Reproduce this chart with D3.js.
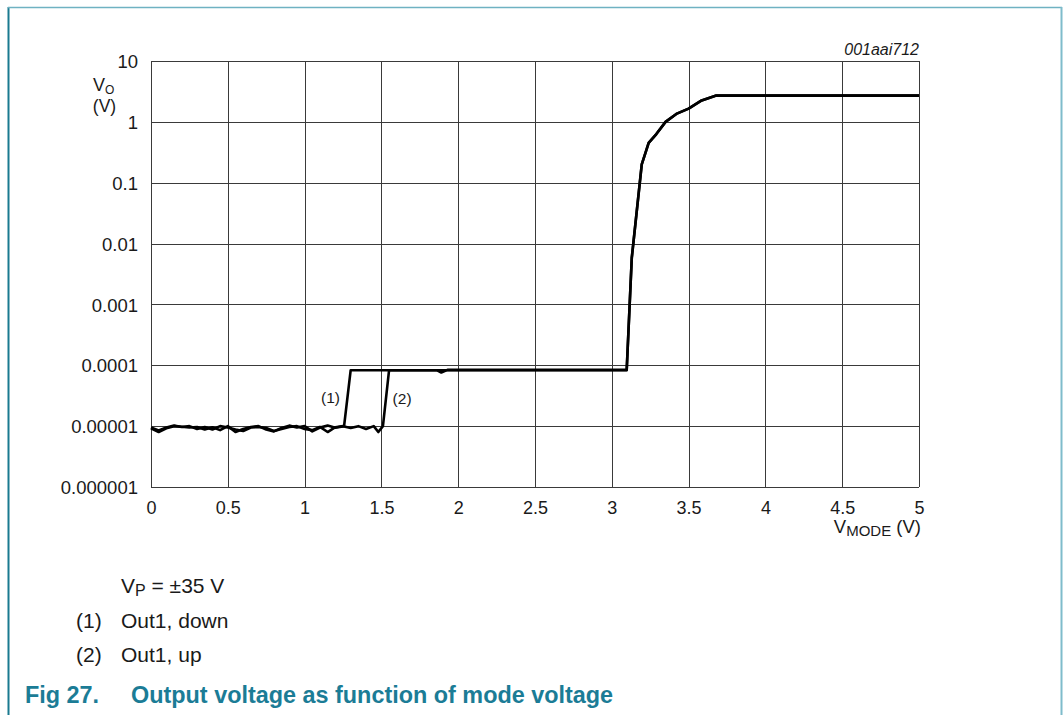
<!DOCTYPE html>
<html>
<head>
<meta charset="utf-8">
<script src="https://cdn.jsdelivr.net/npm/d3@7"></script>
<style>
  html, body { margin: 0; padding: 0; background: #fff; }
  svg { display: block; font-family: "Liberation Sans", Arial, sans-serif; }
</style>
</head>
<body>
<svg id="chart" width="1063" height="715"></svg>
<script>
// ---- data ----
const xTickValues = [0, 0.5, 1, 1.5, 2, 2.5, 3, 3.5, 4, 4.5, 5];
const xTickLabels = ["0", "0.5", "1", "1.5", "2", "2.5", "3", "3.5", "4", "4.5", "5"];
const yTickValues = [10, 1, 0.1, 0.01, 0.001, 0.0001, 0.00001, 0.000001];
const yTickLabels = ["10", "1", "0.1", "0.01", "0.001", "0.0001", "0.00001", "0.000001"];

// (1) Out1, down
const downX = [0, 0.05, 0.1, 0.15, 0.2, 0.25, 0.3, 0.35, 0.4, 0.45, 0.5, 0.55, 0.6, 0.65, 0.7, 0.75, 0.8, 0.85, 0.9, 0.95, 1.0, 1.05, 1.1, 1.15, 1.2, 1.257,
               1.30, 3.097, 3.13, 3.195, 3.24, 3.29, 3.35, 3.42, 3.50, 3.585, 3.68, 5.0];
const downY = [0.92e-5, 0.8e-5, 0.92e-5, 1.0e-5, 0.98e-5, 0.95e-5, 0.97e-5, 0.88e-5, 0.96e-5, 0.86e-5, 1.0e-5, 0.8e-5, 0.9e-5, 0.97e-5, 1.0e-5, 0.88e-5, 0.82e-5, 0.93e-5, 1.02e-5, 0.95e-5, 1.0e-5, 0.82e-5, 0.95e-5, 1.02e-5, 0.94e-5, 1.0e-5,
               8.3e-5, 8.3e-5, 0.0058, 0.2, 0.45, 0.63, 1.0, 1.35, 1.65, 2.25, 2.7, 2.7];

// (2) Out1, up
const upX = [0, 0.05, 0.1, 0.15, 0.2, 0.25, 0.3, 0.35, 0.4, 0.45, 0.5, 0.55, 0.6, 0.65, 0.7, 0.75, 0.8, 0.85, 0.9, 0.95, 1.0, 1.05, 1.1, 1.15, 1.2, 1.25, 1.3, 1.35, 1.4, 1.45, 1.48, 1.51,
             1.55, 1.86, 1.89, 1.93, 3.097, 3.13, 3.195, 3.24, 3.29, 3.35, 3.42, 3.50, 3.585, 3.68, 5.0];
const upY = [0.95e-5, 0.85e-5, 0.95e-5, 1.02e-5, 0.97e-5, 1.0e-5, 0.9e-5, 0.97e-5, 0.88e-5, 1.0e-5, 0.95e-5, 0.88e-5, 0.83e-5, 0.95e-5, 0.97e-5, 0.93e-5, 0.83e-5, 0.9e-5, 0.97e-5, 1.0e-5, 0.9e-5, 0.86e-5, 0.97e-5, 0.8e-5, 0.96e-5, 1.0e-5, 0.93e-5, 1.0e-5, 0.9e-5, 1.0e-5, 0.8e-5, 1.0e-5,
             8.3e-5, 8.3e-5, 7.6e-5, 8.4e-5, 8.4e-5, 0.0058, 0.2, 0.45, 0.63, 1.0, 1.35, 1.65, 2.25, 2.7, 2.7];

const seriesLabels = ["(1)", "(2)"];

// ---- layout ----
const svg = d3.select("#chart");
const pLeft = 151, pRight = 919, pTop = 61, pBottom = 487;
const x = d3.scaleLinear().domain([0, 5]).range([pLeft, pRight]);
const y = d3.scaleLog().domain([1e-6, 10]).range([pBottom, pTop]);
const gridColor = "#3a3a3a";
const textColor = "#1a1a1a";
const teal = "#1b7c96";

// frame border
svg.append("line").attr("x1", 8.5).attr("y1", 7).attr("x2", 8.5).attr("y2", 715)
  .attr("stroke", "#1a7a90").attr("stroke-width", 2);
svg.append("line").attr("x1", 8).attr("y1", 7.5).attr("x2", 1062).attr("y2", 7.5)
  .attr("stroke", "#6fb2c2").attr("stroke-width", 1.5);
svg.append("line").attr("x1", 1061.5).attr("y1", 7).attr("x2", 1061.5).attr("y2", 715)
  .attr("stroke", "#7fbccb").attr("stroke-width", 2);

// grid via axes
svg.append("g").attr("transform", `translate(0,${pBottom})`)
  .call(d3.axisBottom(x).tickValues(xTickValues).tickSize(-(pBottom - pTop)).tickFormat(""))
  .call(g => g.select(".domain").remove())
  .call(g => g.selectAll("line").attr("stroke", gridColor).attr("stroke-width", 1).attr("shape-rendering", "crispEdges"));
svg.append("g").attr("transform", `translate(${pLeft},0)`)
  .call(d3.axisLeft(y).tickValues(yTickValues).tickSize(-(pRight - pLeft)).tickFormat(""))
  .call(g => g.select(".domain").remove())
  .call(g => g.selectAll("line").attr("stroke", gridColor).attr("stroke-width", 1).attr("shape-rendering", "crispEdges"));

// tick labels
svg.append("g").attr("transform", `translate(0,${pBottom})`)
  .call(d3.axisBottom(x).tickValues(xTickValues).tickSize(0).tickPadding(0)
    .tickFormat((d, i) => xTickLabels[i]))
  .call(g => g.select(".domain").remove())
  .call(g => g.selectAll("text").attr("y", 27).attr("dy", null)
    .attr("font-size", 18).attr("fill", textColor)
    .attr("font-family", "Liberation Sans, Arial, sans-serif"));
svg.append("g").attr("transform", `translate(${pLeft},0)`)
  .call(d3.axisLeft(y).tickValues(yTickValues).tickSize(0).tickPadding(0)
    .tickFormat((d, i) => yTickLabels[i]))
  .call(g => g.select(".domain").remove())
  .call(g => g.selectAll("text").attr("x", -13).attr("dy", "0.36em")
    .attr("font-size", 18.5).attr("fill", textColor)
    .attr("font-family", "Liberation Sans, Arial, sans-serif"));

// curves
const line = d3.line().x(d => x(d[0])).y(d => y(d[1]));
const down = downX.map((v, i) => [v, downY[i]]);
const up = upX.map((v, i) => [v, upY[i]]);
[down, up].forEach(data => {
  svg.append("path").datum(data).attr("d", line)
    .attr("fill", "none").attr("stroke", "#000").attr("stroke-width", 2.6)
    .attr("stroke-linejoin", "round");
});

// curve labels
svg.append("text").attr("x", x(1.25) - 3).attr("y", y(2.4e-5)).attr("text-anchor", "end")
  .attr("font-size", 15.5).attr("fill", textColor).text(seriesLabels[0]);
svg.append("text").attr("x", x(1.56) + 2).attr("y", y(2.35e-5)).attr("text-anchor", "start")
  .attr("font-size", 15.5).attr("fill", textColor).text(seriesLabels[1]);

// y axis label
const yl = svg.append("text").attr("x", 93).attr("y", 91).attr("font-size", 18).attr("fill", textColor);
yl.append("tspan").text("V");
yl.append("tspan").attr("dy", 3).attr("font-size", 12).text("O");
svg.append("text").attr("x", 104.5).attr("y", 112).attr("text-anchor", "middle")
  .attr("font-size", 17.5).attr("fill", textColor).text("(V)");

// x axis label
const xl = svg.append("text").attr("x", 921).attr("y", 533).attr("text-anchor", "end")
  .attr("font-size", 18.5).attr("fill", textColor);
xl.append("tspan").text("V");
xl.append("tspan").attr("dy", 3).attr("font-size", 15).text("MODE");
xl.append("tspan").attr("dy", -3).text(" (V)");

// figure id
svg.append("text").attr("x", 919).attr("y", 55).attr("text-anchor", "end")
  .attr("font-size", 16).attr("font-style", "italic").attr("fill", textColor).text("001aai712");

// notes
const n0 = svg.append("text").attr("x", 121).attr("y", 593).attr("font-size", 21).attr("fill", textColor);
n0.append("tspan").text("V");
n0.append("tspan").attr("dy", 3).attr("font-size", 16).text("P");
n0.append("tspan").attr("dy", -3).text(" = \u00B135 V");

svg.append("text").attr("x", 76).attr("y", 628).attr("font-size", 21).attr("fill", textColor).text("(1)");
svg.append("text").attr("x", 121).attr("y", 628).attr("font-size", 21).attr("fill", textColor).text("Out1, down");
svg.append("text").attr("x", 76).attr("y", 661.5).attr("font-size", 21).attr("fill", textColor).text("(2)");
svg.append("text").attr("x", 121).attr("y", 661.5).attr("font-size", 21).attr("fill", textColor).text("Out1, up");

// title
svg.append("text").attr("x", 25).attr("y", 703).attr("font-size", 23.4).attr("font-weight", "bold")
  .attr("fill", teal).text("Fig 27.");
svg.append("text").attr("x", 131).attr("y", 703).attr("font-size", 23.4).attr("font-weight", "bold")
  .attr("fill", teal).text("Output voltage as function of mode voltage");
</script>
</body>
</html>
